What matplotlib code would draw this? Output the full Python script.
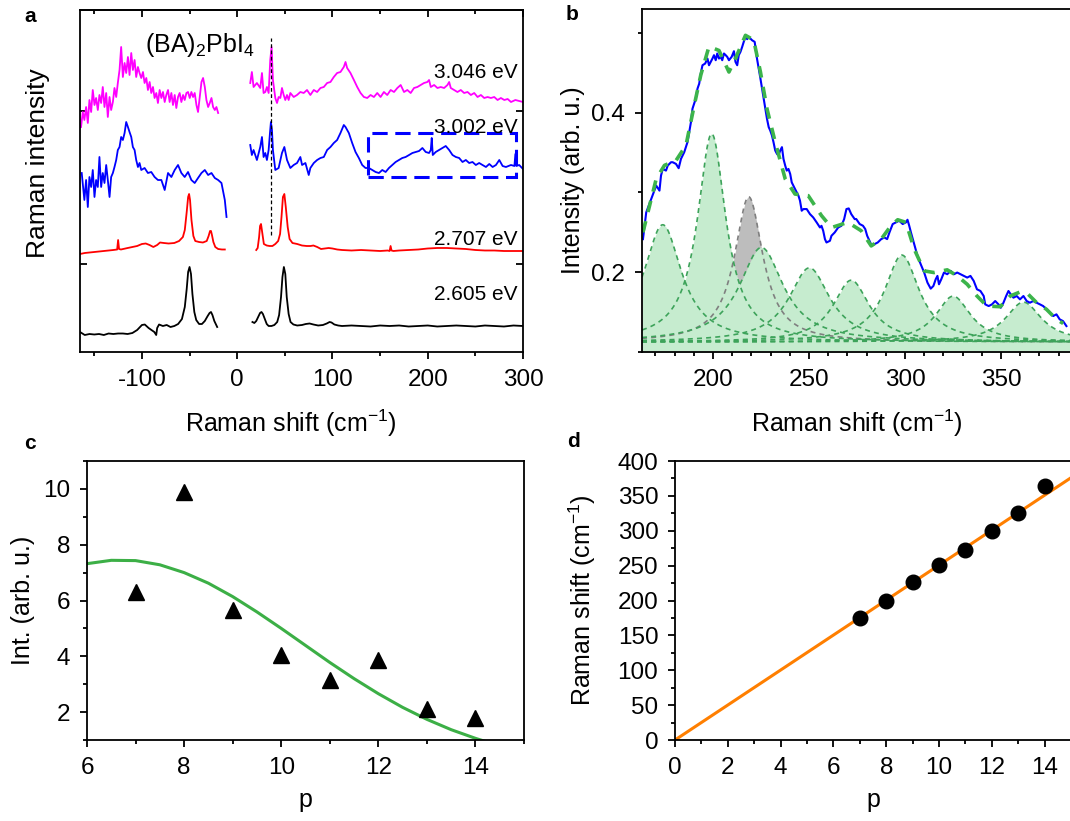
import numpy as np
import matplotlib.pyplot as plt
from matplotlib.ticker import MultipleLocator, NullFormatter
from matplotlib.patches import Rectangle

plt.rcParams['font.family'] = ['Liberation Sans', 'DejaVu Sans']
plt.rcParams['mathtext.fontset'] = 'custom'
plt.rcParams['mathtext.rm'] = 'Liberation Sans'
plt.rcParams['mathtext.it'] = 'Liberation Sans:italic'
plt.rcParams['mathtext.bf'] = 'Liberation Sans:bold'
plt.rcParams['axes.unicode_minus'] = False
plt.rcParams['axes.linewidth'] = 1.3
for k in ['xtick', 'ytick']:
    plt.rcParams[k + '.major.width'] = 1.3
    plt.rcParams[k + '.minor.width'] = 1.3
    plt.rcParams[k + '.major.size'] = 5
    plt.rcParams[k + '.minor.size'] = 3
    plt.rcParams[k + '.major.pad'] = 7
    plt.rcParams[k + '.minor.pad'] = 7
    plt.rcParams[k + '.labelsize'] = 17.5

# ---- (a) resonant Raman spectra, stacked (arb. offsets) ----
black_l_x = [-165, -160, -155, -150, -145, -140, -135, -130, -125, -120, -115, -110, -105, -100, -97, -93, -90, -87,
             -85, -84, -82, -78, -74, -70, -66, -62, -58, -55, -53, -51.5, -50, -48.5, -47, -45, -43, -40, -37, -34,
             -31, -29, -27.5, -26, -24, -22, -21]
black_l_y = [20, 17, 18, 17.5, 18, 17, 18.5, 18, 18.5, 18.5, 18, 19, 22, 27, 27.5, 24, 22, 20, 17, 24, 27.5, 26, 27,
             25, 26, 28, 33, 45, 63, 80, 85, 78, 58, 40, 32, 28, 28, 31, 36, 39, 40, 37, 31, 27, 25]
black_r_x = [16, 18, 20, 22, 24, 25.5, 27, 29, 31, 33, 36, 39, 42, 44, 46, 47.5, 49, 50.5, 52, 54, 56, 59, 63, 68, 72,
             76, 80, 85, 90, 94, 97, 99, 102, 106, 110, 120, 130, 140, 150, 160, 170, 180, 190, 200, 210, 220, 230,
             240, 250, 260, 270, 280, 290, 300]
black_r_y = [30, 29, 31, 35, 39, 40, 38, 33, 28, 26, 26, 27, 30, 37, 55, 75, 85, 78, 55, 38, 30, 27.5, 26.5, 27, 28,
             28.5, 27.5, 26.5, 27, 28.5, 30, 29.5, 27.5, 26.5, 26, 26.5, 26, 25.5, 26.5, 26, 26.5, 25.5, 26, 26.5,
             25.5, 26, 26.5, 26, 25.5, 26.5, 26, 25.5, 26.5, 26]

red_l_x = [-165, -160, -150, -140, -130, -126, -125, -124, -122, -115, -110, -105, -100, -96, -92, -88, -84, -81, -77,
           -72, -66, -61, -57, -55, -53, -51.5, -50.5, -49.5, -48, -46, -44, -40, -36, -32, -30, -28.5, -27.5, -26.5,
           -25, -23, -20, -16, -13]
red_l_y = [98, 99, 100, 101, 102, 102.5, 112, 103, 102.5, 104, 105, 106, 108, 108.5, 107, 105, 107, 109.5, 109,
           108.5, 109, 111, 115, 122, 140, 155, 158, 152, 132, 116, 111, 110, 109.5, 111, 116, 121, 121, 117, 110,
           105, 103, 102.5, 102.5]
red_r_x = [20, 21.5, 23, 24, 25, 26.5, 28, 31, 34, 37, 40, 43, 45, 46.5, 48, 49.5, 51, 53, 55, 58, 63, 68, 73, 77, 80,
           84, 88, 92, 96, 100, 105, 110, 120, 130, 140, 150, 158, 160, 161, 162, 164, 170, 180, 190, 200, 210, 220,
           230, 240, 250, 260, 270, 280, 290, 300]
red_r_y = [102, 104, 115, 126, 128, 118, 108, 106.5, 106, 106, 108, 111, 118, 135, 155, 158, 145, 125, 113, 109, 108,
           106.5, 106, 106, 106.5, 105, 103, 103.5, 104, 103.5, 102.5, 102, 101.5, 102, 101.5, 101, 101.5, 101, 106,
           101.5, 101, 101.5, 102, 102.5, 103.5, 104, 104, 103.5, 103, 102, 101.5, 101.5, 101, 101, 101]

blue_l_x = [-163.2, -160.4, -158.6, -156.8, -155.1, -153.3, -151.6, -149.8, -148.1, -146.3, -144.6, -142.8, -141.1,
            -139.3, -137.5, -135.8, -134.0, -132.3, -130.5, -128.8, -127.0, -125.3, -123.5, -121.8, -120.0, -118.2,
            -116.5, -114.7, -113.0, -111.2, -109.5, -107.7, -106.0, -104.2, -102.5, -100.7, -97.2, -93.7, -90.2,
            -86.7, -83.2, -79.6, -76.1, -72.6, -69.1, -65.6, -62.1, -58.6, -55.1, -51.6, -48.1, -44.6, -41.1, -37.5,
            -34.0, -30.5, -27.0, -23.5, -20.0, -16.5, -13.0, -11.2]
blue_l_y = [179, 152, 172, 145, 175, 165, 182, 155, 172, 165, 195, 165, 179, 169, 187, 172, 155, 175, 179, 185, 192,
            202, 205, 215, 212, 219, 230, 225, 220, 215, 205, 202, 192, 185, 189, 182, 184, 179, 180, 175, 172, 172,
            162, 179, 175, 182, 187, 179, 175, 180, 172, 169, 174, 179, 182, 177, 179, 174, 172, 169, 152, 135]
blue_r_x = [13.7, 15.4, 17.2, 20.7, 24.2, 26.0, 27.7, 29.5, 31.2, 33.0, 34.4, 35.4, 36.5, 37.5, 40.0, 43.5, 47.0,
            49.5, 52.3, 55.8, 59.3, 62.8, 66.3, 68.1, 71.6, 75.1, 76.8, 80.4, 83.9, 87.4, 90.9, 94.4, 97.9, 101.4,
            104.9, 108.4, 111.9, 113.7, 117.2, 120.7, 124.2, 127.7, 131.2, 134.7, 138.2, 141.8, 145.3, 148.8, 152.3,
            155.8, 159.3, 162.8, 166.3, 169.8, 173.3, 176.8, 180.4, 183.9, 187.4, 190.9, 194.4, 197.9, 201.4, 203.2,
            204.2, 205.3, 208.4, 211.9, 215.4, 218.9, 222.5, 226.0, 229.5, 233.0, 236.5, 240.0, 243.5, 247.0, 250.5,
            254.0, 257.5, 261.1, 264.6, 268.1, 271.6, 275.1, 278.6, 282.1, 287.4, 291, 292, 293, 296, 300]
blue_r_y = [207, 197, 202, 192, 205, 215, 195, 199, 192, 202, 219, 230, 222, 202, 182, 184, 199, 205, 192, 184, 187,
            189, 195, 187, 189, 177, 184, 189, 192, 194, 195, 202, 205, 209, 212, 219, 227, 225, 219, 209, 200, 194,
            187, 184, 184, 182, 180, 179, 182, 180, 184, 187, 190, 192, 194, 195, 197, 199, 200, 201, 204, 200, 199,
            202, 214, 197, 200, 202, 204, 206, 202, 197, 195, 194, 190, 192, 189, 190, 187, 189, 187, 185, 188, 185,
            187, 192, 186, 185, 187, 186, 198, 186, 187, 183]

mag_l_x = [-163.9, -162.1, -160.4, -158.6, -156.8, -155.1, -153.3, -151.6, -149.8, -148.1, -146.3, -144.6, -142.8,
           -141.1, -139.3, -137.5, -135.8, -134.0, -132.3, -130.5, -128.8, -127.0, -125.3, -123.5, -121.8, -120.0,
           -118.2, -116.5, -114.7, -113.0, -111.2, -109.5, -107.7, -106.0, -104.2, -102.5, -100.7, -98.9, -97.2,
           -95.4, -93.7, -91.9, -90.2, -88.4, -86.7, -84.9, -83.2, -81.4, -79.6, -77.9, -76.1, -74.4, -72.6, -70.9,
           -69.1, -67.4, -65.6, -63.9, -62.1, -60.4, -58.6, -56.8, -55.1, -53.3, -51.6, -49.8, -48.1, -46.3, -44.6,
           -42.8, -41.1, -39.3, -37.5, -35.8, -34.0, -32.3, -30.5, -28.8, -27.0, -25.3, -23.5, -21.8, -20.0]
mag_l_y = [225, 240, 232, 245, 229, 252, 240, 262, 247, 254, 242, 257, 249, 265, 245, 259, 235, 255, 242, 250, 264,
           255, 269, 282, 305, 275, 289, 279, 295, 277, 299, 282, 292, 275, 285, 279, 274, 280, 269, 274, 262, 270,
           259, 265, 254, 259, 249, 262, 254, 260, 250, 257, 262, 250, 259, 247, 257, 244, 255, 259, 250, 257, 252,
           259, 260, 254, 260, 255, 259, 247, 240, 255, 270, 274, 265, 252, 245, 249, 254, 245, 242, 245, 239]
mag_r_x = [13.7, 15.4, 17.2, 20.7, 24.2, 26.0, 27.7, 29.5, 31.2, 33.0, 34.7, 36.1, 37.5, 40.0, 41.8, 43.5, 45.3, 47.0,
           48.8, 50.5, 52.3, 54.0, 55.8, 59.3, 62.8, 66.3, 69.8, 73.3, 76.8, 80.4, 83.9, 87.4, 90.9, 94.4, 97.9,
           101.4, 104.9, 108.4, 111.9, 113.7, 115.4, 118.9, 122.5, 126.0, 129.5, 133.0, 136.5, 140.0, 143.5, 147.0,
           150.5, 154.0, 157.5, 161.1, 164.6, 168.1, 171.6, 175.1, 178.6, 182.1, 185.6, 189.1, 192.6, 196.1, 199.6,
           201.4, 203.2, 206.7, 210.2, 213.7, 217.2, 220.7, 222.5, 224.2, 227.7, 231.2, 234.7, 238.2, 241.8, 245.3,
           248.8, 252.3, 255.8, 259.3, 262.8, 266.3, 269.8, 273.3, 276.8, 280.4, 283.9, 287.4, 292, 296, 300]
mag_r_y = [269, 280, 265, 269, 264, 279, 259, 260, 265, 259, 292, 305, 272, 254, 249, 255, 254, 264, 257, 252, 257,
           252, 259, 255, 257, 260, 259, 262, 257, 262, 260, 264, 265, 269, 270, 275, 279, 280, 285, 290, 284, 279,
           272, 265, 259, 255, 254, 257, 255, 259, 255, 260, 257, 262, 260, 264, 267, 260, 262, 259, 264, 265, 267,
           269, 270, 272, 265, 267, 264, 265, 264, 267, 270, 264, 262, 260, 262, 259, 260, 257, 259, 255, 257, 254,
           255, 254, 255, 252, 254, 252, 253, 250, 252, 251, 250]

energies = ['3.046 eV', '3.002 eV', '2.707 eV', '2.605 eV']
energy_y = [280, 225, 113, 58]

# ---- (b) zoom of the 3.002 eV spectrum with peak fit ----
spec_x = [163.5, 165.2, 167.8, 170.4, 172.1, 172.9, 173.8, 175.5, 176.4, 178.1, 179.0, 180.7, 182.1, 183.3, 185.0,
          186.7, 187.6, 188.5, 189.3, 191.0, 191.9, 192.8, 193.6, 194.5, 195.9, 197.1, 197.9, 198.8, 199.7, 200.5,
          201.4, 202.2, 203.1, 204.0, 204.8, 205.7, 206.6, 207.4, 208.3, 209.7, 210.9, 211.7, 212.6, 213.4, 214.3,
          215.2, 216.0, 216.9, 217.8, 218.6, 220.3, 221.7, 222.9, 224.7, 226.4, 228.1, 229.0, 229.8, 230.7, 231.5,
          232.4, 233.3, 234.1, 235.0, 235.9, 236.7, 237.6, 238.4, 239.3, 240.2, 241.0, 242.7, 244.5, 245.3, 246.2,
          247.1, 248.8, 250.5, 252.2, 254.0, 255.7, 256.5, 257.4, 258.3, 259.1, 260.9, 261.7, 263.4, 265.2, 266.9,
          268.3, 269.5, 270.7, 272.0, 273.8, 274.6, 276.4, 278.1, 279.3, 280.3, 281.5, 282.7, 284.1, 285.8, 287.6,
          289.3, 290.7, 291.9, 293.6, 295.3, 297.0, 298.8, 300.5, 301.3, 302.2, 303.1, 304.8, 306.5, 308.2, 310.0,
          311.7, 313.4, 314.8, 316.0, 316.9, 317.7, 318.9, 320.3, 322.0, 323.8, 325.5, 327.2, 328.9, 330.6, 332.4,
          334.1, 335.8, 337.5, 339.3, 341.0, 341.8, 343.6, 345.3, 347.0, 348.7, 349.9, 351.3, 352.7, 353.9, 355.1,
          356.5, 358.2, 359.9, 361.7, 363.4, 365.1, 366.8, 368.6, 370.3, 372.0, 373.7, 375.5, 377.2, 378.9, 380.6,
          382.3, 384.1]
spec_y = [0.2415, 0.275, 0.2918, 0.3086, 0.3023, 0.3211, 0.3295, 0.3274, 0.3337, 0.3379, 0.3379, 0.3358, 0.3304,
          0.3421, 0.3505, 0.3631, 0.3756, 0.3882, 0.405, 0.4176, 0.4301, 0.4364, 0.449, 0.4595, 0.4616, 0.4679,
          0.4595, 0.4637, 0.4679, 0.4721, 0.4658, 0.4742, 0.4679, 0.47, 0.4658, 0.4742, 0.4721, 0.47, 0.4658, 0.47,
          0.4771, 0.4637, 0.4595, 0.4721, 0.4763, 0.4826, 0.4888, 0.4951, 0.4922, 0.4951, 0.4909, 0.4888, 0.4679,
          0.4427, 0.4176, 0.3924, 0.3819, 0.3777, 0.3714, 0.3631, 0.3526, 0.3484, 0.3463, 0.3526, 0.3568, 0.3421,
          0.3337, 0.3274, 0.3295, 0.3232, 0.3127, 0.3044, 0.296, 0.2897, 0.2771, 0.2792, 0.2792, 0.2729, 0.2687,
          0.2624, 0.2561, 0.2582, 0.2519, 0.2415, 0.2373, 0.2394, 0.2457, 0.2499, 0.2561, 0.2582, 0.2666, 0.2792,
          0.28, 0.2729, 0.2666, 0.2667, 0.2604, 0.2583, 0.2541, 0.2457, 0.2394, 0.2331, 0.2352, 0.2373, 0.2415,
          0.2436, 0.2415, 0.2499, 0.2604, 0.2625, 0.2646, 0.2604, 0.2625, 0.2658, 0.2583, 0.2499, 0.2352, 0.2205,
          0.21, 0.1996, 0.187, 0.1794, 0.1828, 0.1912, 0.1954, 0.1849, 0.1912, 0.1996, 0.1975, 0.2017, 0.1975,
          0.1996, 0.1975, 0.1954, 0.1933, 0.1954, 0.1891, 0.1786, 0.1765, 0.1702, 0.1597, 0.1576, 0.1597, 0.1639,
          0.1597, 0.1555, 0.1618, 0.1702, 0.1765, 0.1723, 0.1681, 0.1702, 0.166, 0.1702, 0.1639, 0.1618, 0.1639,
          0.1618, 0.1597, 0.1576, 0.1534, 0.1493, 0.1451, 0.1472, 0.1409, 0.1388, 0.1325]
fit_x = [163.5, 166.9, 170.4, 174.7, 180.7, 185.9, 190.2, 193.6, 197.9, 203.1, 208.3, 211.7, 216.9, 221.2, 224.7,
         228.1, 232.4, 237.6, 242.7, 249.6, 256.5, 261.7, 266.9, 270.3, 277.2, 282.4, 287.6, 292.7, 296.2, 300.5,
         304.8, 310.0, 315.1, 322.0, 327.2, 332.4, 337.5, 342.7, 349.6, 354.8, 359.9, 364.2, 368.6, 373.7, 378.9,
         382.4]
fit_y = [0.250, 0.283, 0.317, 0.334, 0.340, 0.359, 0.409, 0.447, 0.483, 0.478, 0.451, 0.468, 0.497, 0.491, 0.451,
         0.405, 0.363, 0.317, 0.298, 0.296, 0.271, 0.256, 0.260, 0.2625, 0.252, 0.233, 0.2415, 0.2583, 0.2658,
         0.2625, 0.229, 0.2017, 0.1996, 0.203, 0.1954, 0.1849, 0.1702, 0.1576, 0.1568, 0.1702, 0.1752, 0.1723,
         0.1618, 0.1535, 0.1409, 0.1358]
# fitted components: centre, height above background, half width
peak_pos = [173.8, 199.3, 225.2, 250.2, 272.0, 298.4, 325.1, 361.7]
peak_amp = [0.147, 0.261, 0.1185, 0.093, 0.0775, 0.109, 0.0575, 0.050]
peak_hw = [12, 9, 14, 13, 11.5, 11, 11, 11.5]
extra_pos, extra_amp, extra_hw = 218.6, 0.182, 9
background = 0.1125

# ---- (c) intensity vs p ----
p_c = [7, 8, 9, 10, 11, 12, 13, 14]
int_c = [6.3, 9.9, 5.65, 4.05, 3.15, 3.85, 2.1, 1.8]
model_p = [6, 6.5, 7, 7.5, 8, 8.5, 9, 9.5, 10, 10.5, 11, 11.5, 12, 12.5, 13, 13.5, 14, 14.2]
model_int = [7.32, 7.44, 7.43, 7.28, 7.00, 6.62, 6.14, 5.59, 5.00, 4.39, 3.78, 3.20, 2.66, 2.17, 1.74, 1.37, 1.06,
             0.95]

# ---- (d) Raman shift vs p ----
p_d = [7, 8, 9, 10, 11, 12, 13, 14]
shift_d = [175, 200, 226, 251, 273, 299, 326, 364]
line_p = [0, 15]
line_shift = [0, 376]

W, H = 1070, 821
fig = plt.figure(figsize=(W / 100, H / 100), dpi=100)


def box(l, t, r, b):
    return [l / W, 1 - b / H, (r - l) / W, (b - t) / H]


xlab = r'Raman shift (cm$^{-1}$)'
lab_fs = 18

# panel a
ax = fig.add_axes(box(80, 10, 523, 352))
for xs, ys, c in [(black_l_x, black_l_y, 'k'), (black_r_x, black_r_y, 'k'),
                  (red_l_x, red_l_y, '#ff0000'), (red_r_x, red_r_y, '#ff0000'),
                  (blue_l_x, blue_l_y, '#0000ff'), (blue_r_x, blue_r_y, '#0000ff'),
                  (mag_l_x, mag_l_y, '#ff00ff'), (mag_r_x, mag_r_y, '#ff00ff')]:
    ax.plot(xs, ys, color=c, lw=1.3)
ax.plot([36, 36], [117, 314], color='k', lw=0.9, dashes=(3, 2))
ax.add_patch(Rectangle((137, 175), 156, 44, fill=False, ec='#0000ff', lw=2.2, linestyle=(0, (5, 2.5))))
for s, y in zip(energies, energy_y):
    ax.text(294, y, s, ha='right', va='center', fontsize=15)
ax.text(-97, 307, r'(BA)$_2$PbI$_4$', ha='left', va='center', fontsize=18)
ax.set_xlim(-165, 300)
ax.set_ylim(0, 342)
ax.xaxis.set_major_locator(MultipleLocator(100))
ax.xaxis.set_minor_locator(MultipleLocator(50))
ax.tick_params(axis='x', which='both', direction='out')
sec = ax.secondary_xaxis('top')
sec.xaxis.set_major_locator(MultipleLocator(100))
sec.xaxis.set_minor_locator(MultipleLocator(50))
sec.xaxis.set_major_formatter(NullFormatter())
sec.tick_params(which='both', direction='in')
ax.set_yticks([88, 241])
ax.set_yticklabels([])
ax.tick_params(axis='y', direction='in', right=True)
ax.set_xlabel(xlab, fontsize=lab_fs)
ax.xaxis.set_label_coords(0.476, -0.163)
ax.set_ylabel('Raman intensity', fontsize=19)
ax.yaxis.set_label_coords(-0.068, 0.553)

# panel b
ax = fig.add_axes(box(642, 9, 1072, 352))
xs = np.linspace(163, 387, 800)
comps = [(extra_pos, extra_amp, extra_hw, '#bdbdbd', '#7f7f7f')]
comps += [(p, a, w, '#c6eccf', '#3da35a') for p, a, w in zip(peak_pos, peak_amp, peak_hw)]
for p, a, w, fc, ec in comps:
    ys = background + a / (1 + ((xs - p) / w) ** 2)
    ax.fill_between(xs, ys, 0, color=fc, lw=0)
    ax.plot(xs, ys, color=ec, lw=1.2, dashes=(3, 2.5))
ax.plot(spec_x, spec_y, color='#0000ff', lw=1.5)
ax.plot(fit_x, fit_y, color='#3cb44b', lw=2.6, dashes=(3.2, 2.6))
ax.set_xlim(163, 387)
ax.set_ylim(0.1, 0.53)
ax.xaxis.set_major_locator(MultipleLocator(50))
ax.xaxis.set_minor_locator(MultipleLocator(10))
ax.yaxis.set_major_locator(MultipleLocator(0.2))
ax.yaxis.set_minor_locator(MultipleLocator(0.1))
ax.tick_params(which='both', direction='out')
ax.spines['right'].set_visible(False)
ax.set_xlabel(xlab, fontsize=lab_fs)
ax.xaxis.set_label_coords(0.5, -0.163)
ax.set_ylabel('Intensity (arb. u.)', fontsize=lab_fs)
ax.yaxis.set_label_coords(-0.133, 0.5)

# panel c
ax = fig.add_axes(box(87, 461, 524, 740))
ax.plot(model_p, model_int, color='#3caf46', lw=2.2)
ax.plot(p_c, int_c, '^', color='k', ms=12)
ax.set_xlim(6, 15)
ax.set_ylim(1, 11)
ax.xaxis.set_major_locator(MultipleLocator(2))
ax.xaxis.set_minor_locator(MultipleLocator(1))
ax.yaxis.set_major_locator(MultipleLocator(2))
ax.yaxis.set_minor_locator(MultipleLocator(1))
ax.tick_params(which='both', direction='out')
ax.set_xlabel('p', fontsize=lab_fs, labelpad=7)
ax.set_ylabel('Int. (arb. u.)', fontsize=lab_fs)
ax.yaxis.set_label_coords(-0.118, 0.5)

# panel d
ax = fig.add_axes(box(675, 461, 1071, 740))
ax.plot(line_p, line_shift, color='#ff7f00', lw=2.2)
ax.plot(p_d, shift_d, 'o', color='k', ms=10.5)
ax.set_xlim(0, 15)
ax.set_ylim(0, 400)
ax.xaxis.set_major_locator(MultipleLocator(2))
ax.xaxis.set_minor_locator(MultipleLocator(1))
ax.yaxis.set_major_locator(MultipleLocator(50))
ax.yaxis.set_minor_locator(MultipleLocator(25))
ax.tick_params(which='both', direction='out')
ax.spines['right'].set_visible(False)
ax.set_xlabel('p', fontsize=lab_fs, labelpad=7)
ax.set_ylabel(xlab, fontsize=lab_fs)
ax.yaxis.set_label_coords(-0.195, 0.5)

for s, x, y in [('a', 30, 16), ('b', 572, 14), ('c', 30, 443), ('d', 573, 441)]:
    fig.text(x / W, 1 - y / H, s, fontsize=15, fontweight='bold', ha='center', va='center')

fig.savefig('out.png', dpi=100)
